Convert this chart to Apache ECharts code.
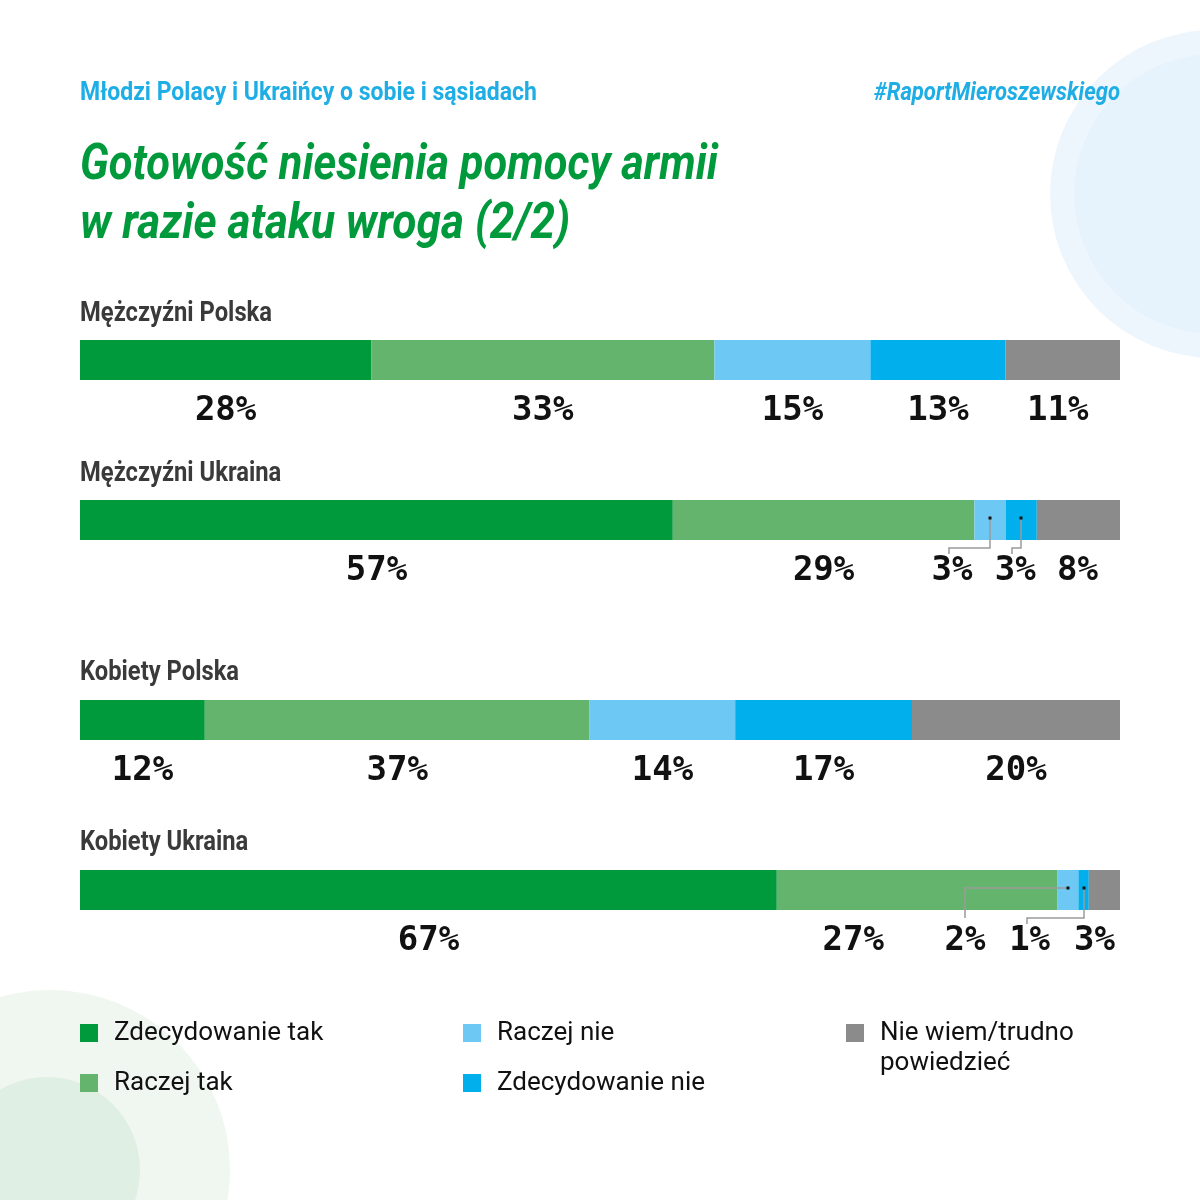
<!DOCTYPE html>
<html>
<head>
<meta charset="utf-8">
<script src="https://cdn.jsdelivr.net/npm/echarts@6/dist/echarts.min.js"></script>
<style>
  html, body { margin: 0; padding: 0; background: #fff; }
  #chart { width: 1200px; height: 1200px; }
</style>
</head>
<body>
<div id="chart"></div>
<script>
// groups, top to bottom
const groups = ['Mężczyźni Polska', 'Mężczyźni Ukraina', 'Kobiety Polska', 'Kobiety Ukraina'];
const answers = ['Zdecydowanie tak', 'Raczej tak', 'Raczej nie', 'Zdecydowanie nie', 'Nie wiem/trudno powiedzieć'];

// values per answer, one per group
const zdecydowanieTak = [28, 57, 12, 67];
const raczejTak = [33, 29, 37, 27];
const raczejNie = [15, 3, 14, 2];
const zdecydowanieNie = [13, 3, 17, 1];
const nieWiem = [11, 8, 20, 3];
const values = [zdecydowanieTak, raczejTak, raczejNie, zdecydowanieNie, nieWiem];

const colors = ['#009a3c', '#64b46e', '#6dc8f4', '#00afec', '#8b8b8b'];

// layout of the four bars
const barTops = [340, 500, 700, 870];
const barH = 40;
const groupLabelY = [314, 474, 673, 843];
// horizontal label shifts (px) for crowded segments: [group][answer]
const labelDx = [
    [0, 0, 0, 0, -5],
    [0, 0, -38, -6, -1],
    [0, 0, 0, 0, 0],
    [0, -64, -103, -54, -10]
];
// leader lines: group, answer, shape
const leaders = [
    {g: 1, s: 2, kind: 'down'},
    {g: 1, s: 3, kind: 'down'},
    {g: 3, s: 2, kind: 'side'},
    {g: 3, s: 3, kind: 'down'}
];

const sans = "Roboto, 'DejaVu Sans', sans-serif";
const mono = "'DejaVu Sans Mono', 'Liberation Mono', monospace";

// the original uses a condensed face; squeeze Roboto horizontally to the same width
const measureCtx = document.createElement('canvas').getContext('2d');
function squeeze(text, font, width) {
    measureCtx.font = font;
    return width / measureCtx.measureText(text).width;
}

let grids = [], xAxes = [], yAxes = [], series = [];
groups.forEach(function (g, gi) {
    grids.push({left: 80, right: 80, top: barTops[gi], height: barH});
    xAxes.push({type: 'value', gridIndex: gi, min: 0, max: 100, show: false});
    yAxes.push({type: 'category', gridIndex: gi, data: [g], show: false});
    answers.forEach(function (a, ai) {
        series.push({
            name: a,
            type: 'bar',
            stack: 'g' + gi,
            xAxisIndex: gi,
            yAxisIndex: gi,
            barWidth: '100%',
            color: colors[ai],
            itemStyle: {color: colors[ai]},
            emphasis: {disabled: true},
            label: {
                show: true,
                position: 'bottom',
                distance: 13,
                offset: [labelDx[gi][ai], 0],
                formatter: '{c}%',
                color: '#111',
                fontFamily: mono,
                fontWeight: 'bold',
                fontSize: 34,
                lineHeight: 36
            },
            data: [values[ai][gi]]
        });
    });
});

// texts drawn as graphic elements so they can be narrowed
function textEl(id, text, x, y, opt) {
    let font = (opt.italic ? 'italic ' : '') + opt.weight + ' ' + opt.size + 'px ' + sans;
    let sx = opt.scaleFrom ? squeeze(opt.scaleFrom, font, opt.width) : squeeze(text, font, opt.width);
    return {
        id: id, type: 'text', x: x, y: y, scaleX: sx, z: 20,
        style: {
            text: text, fill: opt.color, align: opt.align || 'left', verticalAlign: 'middle',
            fontFamily: sans, fontSize: opt.size, fontWeight: opt.weight,
            fontStyle: opt.italic ? 'italic' : 'normal'
        }
    };
}
const headColor = '#1eaee5';
let texts = [
    textEl('h1', 'Młodzi Polacy i Ukraińcy o sobie i sąsiadach', 80, 94,
        {size: 25, weight: 'bold', color: headColor, width: 457}),
    textEl('h2', '#RaportMieroszewskiego', 1120, 94,
        {size: 25, weight: 'bold', italic: true, color: headColor, width: 246, align: 'right'}),
    textEl('t1', 'Gotowość niesienia pomocy armii', 80, 166,
        {size: 50, weight: 'bold', italic: true, color: '#009a3c', width: 638}),
    textEl('t2', 'w razie ataku wroga (2/2)', 80, 225,
        {size: 50, weight: 'bold', italic: true, color: '#009a3c', width: 650,
         scaleFrom: 'Gotowość niesienia pomocy armii'})
];
const groupLabelWidth = 192;
groups.forEach(function (g, gi) {
    texts.push(textEl('g' + gi, g, 80, groupLabelY[gi],
        {size: 28, weight: 'bold', color: '#3a3a3a', width: groupLabelWidth,
         scaleFrom: 'Mężczyźni Polska'}));
});

const legendText = {color: '#111', fontFamily: sans, fontSize: 26, lineHeight: 30, padding: [0, 0, 0, 11]};
const legends = [
    {data: [answers[0], answers[1]], left: 80},
    {data: [answers[2], answers[3]], left: 463},
    {data: [{name: answers[4], icon: 'path://M0,0L18,0L18,18L0,18Z M0,47.9L0.1,47.9L0.1,48L0,48Z'}],
     left: 846, itemHeight: 48,
     formatter: function () { return 'Nie wiem/trudno\npowiedzieć'; }}
].map(function (l) {
    return Object.assign({
        orient: 'vertical', top: 1018, padding: 0, icon: 'rect', itemWidth: 18, itemHeight: 18, itemGap: 20,
        selectedMode: false, textStyle: legendText
    }, l);
});

const circles = [
    {id: 'c1', type: 'circle', z: -10, shape: {cx: 1214, cy: 194, r: 164}, style: {fill: '#eef6fd'}},
    {id: 'c2', type: 'circle', z: -9, shape: {cx: 1214, cy: 194, r: 140}, style: {fill: '#e7f3fc'}},
    {id: 'c3', type: 'circle', z: -10, shape: {cx: 50, cy: 1170, r: 180}, style: {fill: '#f0f6f0'}},
    {id: 'c4', type: 'circle', z: -9, shape: {cx: 47, cy: 1170, r: 93}, style: {fill: '#e0efe3'}}
];

let option = {
    backgroundColor: '#ffffff',
    animation: false,
    legend: legends,
    grid: grids,
    xAxis: xAxes,
    yAxis: yAxes,
    series: series,
    graphic: circles.concat(texts)
};

let element = document.getElementById('chart');
let chart = echarts.init(element);
chart.setOption(option);

// leader lines from small segments to their shifted labels
let lines = [];
leaders.forEach(function (ld, i) {
    let before = 0;
    for (let k = 0; k < ld.s; k++) before += values[k][ld.g];
    let mid = before + values[ld.s][ld.g] / 2;
    let p = chart.convertToPixel({gridIndex: ld.g}, [mid, 0]);
    let x = Math.round(p[0]), y = Math.round(p[1]) - 2;
    let bottom = barTops[ld.g] + barH;
    let lx = x + labelDx[ld.g][ld.s];
    let pts;
    if (ld.kind === 'side') {
        pts = [[x, y], [lx, y], [lx, bottom + 8]];
    } else {
        pts = [[x, y], [x, bottom + 8], [lx - 3, bottom + 8], [lx - 3, bottom + 14]];
    }
    lines.push({id: 'l' + i, type: 'polyline', z: 10, shape: {points: pts},
        style: {stroke: '#9a9a9a', lineWidth: 1.5, fill: null}});
    lines.push({id: 'd' + i, type: 'rect', z: 11, shape: {x: x - 1.5, y: y - 1.5, width: 3, height: 3},
        style: {fill: '#111'}});
});
chart.setOption({graphic: circles.concat(texts, lines)});
</script>
</body>
</html>
